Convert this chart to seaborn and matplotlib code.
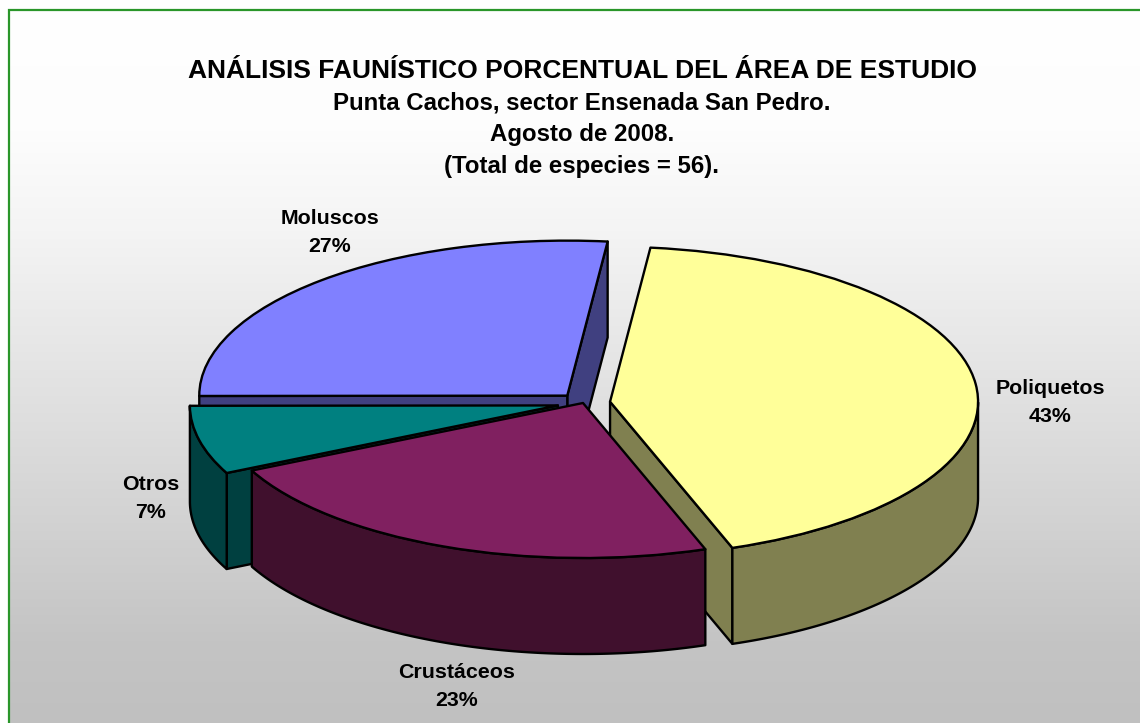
import numpy as np
import matplotlib
matplotlib.use("Agg")
import matplotlib.pyplot as plt
import seaborn as sns

titulo = "ANÁLISIS FAUNÍSTICO PORCENTUAL DEL ÁREA DE ESTUDIO"
subtitulos = ["Punta Cachos, sector Ensenada San Pedro.", "Agosto de 2008.", "(Total de especies = 56)."]
grupos = ["Poliquetos", "Crustáceos", "Otros", "Moluscos"]
especies = [24, 13, 4, 15]  # total 56, the labels show them as rounded percent
separacion = [0.074, 0.0, 0.07, 0.064]
colores = ["#FFFF99", "#802060", "#008080", "#8080FF"]
colores_lado = ["#808050", "#40102D", "#004040", "#404080"]
orden_dibujo = [3, 2, 0, 1]  # de atras hacia adelante

# pixel geometry of the flattened pie
W, H = 1140, 723
cx, cy = 583, 403
rx, ry = 368, 155
alto = 96
grosor = 1.7

sns.set_theme(style="white")
plt.rcParams["font.family"] = ["Liberation Sans", "DejaVu Sans"]
plt.rcParams["font.weight"] = "bold"

fig = plt.figure(figsize=(W / 100, H / 100), dpi=100)

# fondo degradado y marco verde
bg = fig.add_axes([0, 0, 1, 1], zorder=0)
filas = np.arange(H)
gris = np.interp(filas, [0, 130, 230, 430, 640, 723], [255, 253, 244, 221, 196, 192]) / 255
rgb = np.repeat(gris[:, None, None], 3, axis=2)
rgb = np.repeat(rgb, 2, axis=1)
bg.imshow(rgb, aspect="auto", extent=(0, W, H, 0))
bg.fill_between([0, 9], 0, H, color="white", lw=0)
bg.fill_between([0, W], 0, 9.5, color="white", lw=0)
bg.plot([9, 9, W], [H, 10, 10], color="#2A962A", lw=1.6, solid_joinstyle="miter")
bg.set_xlim(0, W)
bg.set_ylim(H, 0)
bg.axis("off")

ax = fig.add_axes([0, 0, 1, 1], zorder=1)
ax.patch.set_alpha(0)
wedges, _ = ax.pie(
    especies,
    explode=separacion,
    colors=colores,
    startangle=83.7,
    counterclock=False,
    wedgeprops={"edgecolor": "black", "linewidth": grosor, "joinstyle": "round"},
)
ax.set_aspect("auto")
ax.set_xlim(-cx / rx, (W - cx) / rx)
ax.set_ylim((cy - H) / ry, cy / ry)
ax.set_axis_off()

prof = alto / ry


def lado(puntos, color, z):
    xs = [p[0] for p in puntos] + [p[0] for p in puntos[::-1]]
    ys = [p[1] for p in puntos] + [p[1] - prof for p in puntos[::-1]]
    ax.fill(xs, ys, facecolor=color, edgecolor="black", lw=grosor, joinstyle="round", zorder=z)


for z, i in enumerate(orden_dibujo):
    w = wedges[i]
    x0, y0 = w.center
    base = 2 * z + 2
    borde = lambda t: (x0 + np.cos(np.radians(t)), y0 + np.sin(np.radians(t)))
    # cut faces that look towards the viewer
    if np.cos(np.radians(w.theta1)) > 0:
        lado([(x0, y0), borde(w.theta1)], colores_lado[i], base)
    if np.cos(np.radians(w.theta2)) < 0:
        lado([(x0, y0), borde(w.theta2)], colores_lado[i], base)
    # outer rim, only the front half
    ts = np.linspace(w.theta1, w.theta2, 240)
    ts = ts[np.sin(np.radians(ts)) <= 0]
    if len(ts) > 1:
        lado([borde(t) for t in ts], colores_lado[i], base)
    w.set_zorder(base + 1)


def texto(px, py, s, size):
    fig.text(px / W, 1 - py / H, s, ha="center", va="center", fontsize=size, color="black", fontweight="bold")


texto(582, 71.5, titulo, 19.0)
for py, s in zip([103, 135, 167], subtitulos):
    texto(582, py, s, 15.4 * 499 / 445)

total = sum(especies)
pos_etiquetas = [(1050, 403), (457, 687), (151, 498), (330, 232)]
for (px, py), g, v in zip(pos_etiquetas, grupos, especies):
    texto(px, py - 14, g, 15.4)
    texto(px, py + 14, f"{round(100 * v / total)}%", 15.4)

fig.savefig("out.png", dpi=100)
